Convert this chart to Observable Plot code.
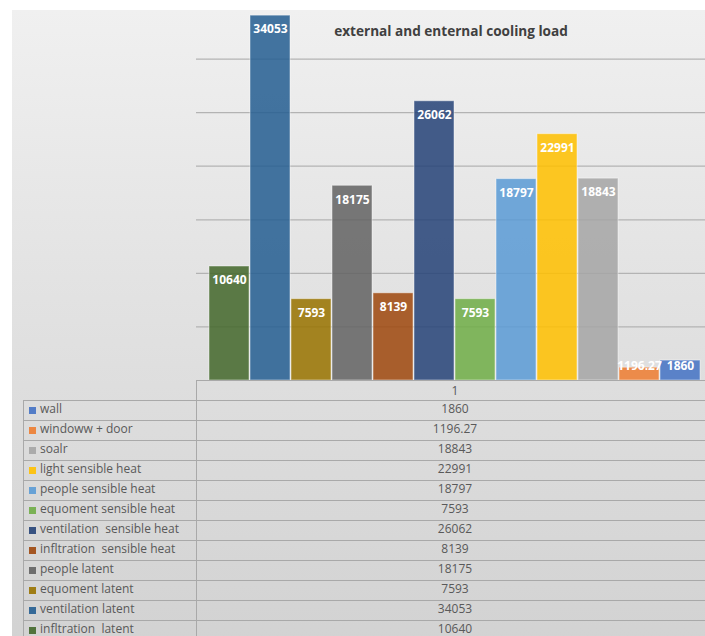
<!DOCTYPE html>
<html>
<head>
<meta charset="utf-8">
<script src="https://cdn.jsdelivr.net/npm/d3@7"></script>
<script src="https://cdn.jsdelivr.net/npm/@observablehq/plot@0.6"></script>
<style>
  html, body { margin: 0; padding: 0; background: #fff; }
  #root { position: relative; width: 705px; height: 636px; overflow: hidden; background: #fff; font-family: "Open Sans", sans-serif; }
  #panel { position: absolute; left: 12px; top: 10px; width: 700px; height: 640px;
    background: linear-gradient(to bottom, #f0f0f0 0%, #e2e2e2 45%, #d2d2d2 100%); }
  #chart { position: absolute; left: 0; top: 0; width: 705px; height: 381px; }
  #title { position: absolute; left: 196px; width: 510px; top: 21px; text-align: center;
    font: bold 13.6px "Open Sans", sans-serif; color: #404040; }
  .hline { position: absolute; height: 1px; background: #a9a9a9; }
  .vline { position: absolute; width: 1px; background: #a9a9a9; }
  .lbl { position: absolute; left: 40px; height: 20px; line-height: 20px; font-size: 12px; color: #595959; white-space: pre; }
  .key { position: absolute; left: 29px; width: 7px; height: 7px; }
  .val { position: absolute; left: 196px; width: 518px; height: 20px; line-height: 20px; text-align: center; font-size: 12px; color: #595959; }
  #err { position: absolute; left: 20px; top: 100px; color: red; font-size: 11px; white-space: pre-wrap; width: 660px; }
</style>
</head>
<body>
<div id="root">
  <div id="panel"></div>
  <div id="chart"></div>
  <div id="title">external and enternal cooling load</div>
  <div id="err"></div>
</div>
<script>
// ---- data ----
const seriesNames = [
  "infltration  latent", "ventilation latent", "equoment latent", "people latent",
  "infltration  sensible heat", "ventilation  sensible heat", "equoment sensible heat",
  "people sensible heat", "light sensible heat", "soalr", "windoww + door", "wall"
];
const seriesValues = [10640, 34053, 7593, 18175, 8139, 26062, 7593, 18797, 22991, 18843, 1196.27, 1860];
const seriesColors = [
  "#43682B", "#255E91", "#997300", "#636363", "#9E480E", "#264478",
  "#70AD47", "#5B9BD5", "#FFC000", "#A5A5A5", "#ED7D31", "#4472C4"
];
const valueLabels = ["10640", "34053", "7593", "18175", "8139", "26062", "7593", "18797", "22991", "18843", "1196.27", "1860"];
const categoryLabel = "1";
const gridTicks = [5000, 10000, 15000, 20000, 25000, 30000];

const data = seriesNames.map((name, i) => ({name, value: seriesValues[i], fillColor: seriesColors[i], label: valueLabels[i]}));

try {
  const plot = Plot.plot({
    width: 705,
    height: 381,
    marginTop: 5,
    marginBottom: 1,
    marginLeft: 196,
    marginRight: 0,
    style: {background: "transparent", overflow: "visible"},
    x: {domain: seriesNames, range: [208, 701], paddingInner: 0.025, paddingOuter: 0, axis: null},
    y: {domain: [0, 35000], axis: null},
    marks: [
      Plot.ruleY(gridTicks, {stroke: "#b3b3b3", strokeWidth: 1.2}),
      Plot.barY(data, {x: "name", y: "value", fill: d => d.fillColor, fillOpacity: 0.86, stroke: "#ffffff", strokeOpacity: 0.45, strokeWidth: 1}),
      Plot.text(data, {x: "name", y: d => Math.max(d.value, 2600), dy: 14, text: "label", fill: "#ffffff",
        fontWeight: "bold", fontSize: 12, fontFamily: "Open Sans"})
    ]
  });
  plot.style.position = "absolute";
  plot.style.left = "0px";
  plot.style.top = "0px";
  document.getElementById("chart").appendChild(plot);
} catch (e) {
  document.getElementById("err").textContent = String(e && e.stack || e);
}

// ---- data table ----
const root = document.getElementById("root");
function add(cls, styles, text) {
  const el = document.createElement("div");
  el.className = cls;
  Object.assign(el.style, styles);
  if (text !== undefined) el.textContent = text;
  root.appendChild(el);
  return el;
}
const top0 = 380, rowH = 20;
const rows = data.slice().reverse();
add("hline", {left: "196px", top: top0 + "px", width: "520px"});
add("val", {top: (top0 + 1) + "px"}, categoryLabel);
add("vline", {left: "196px", top: top0 + "px", height: "300px"});
add("vline", {left: "23px", top: (top0 + rowH) + "px", height: "300px"});
rows.forEach((r, i) => {
  const y = top0 + rowH * (i + 1);
  add("hline", {left: "23px", top: y + "px", width: "700px"});
  add("key", {top: (y + 7) + "px", background: r.fillColor, opacity: 0.9});
  add("lbl", {top: (y - 1) + "px"}, r.name);
  add("val", {top: (y - 1) + "px"}, r.label);
});
</script>
</body>
</html>
